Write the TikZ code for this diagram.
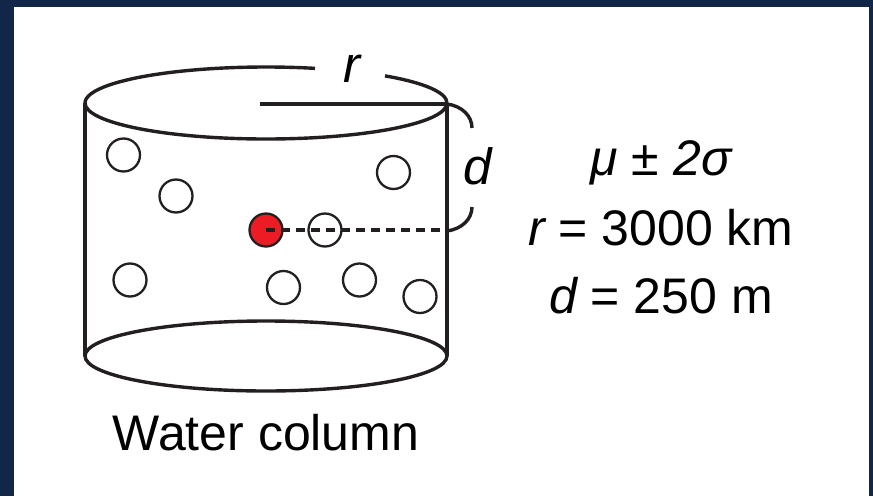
\documentclass[tikz,border=0pt]{standalone}
\usepackage{fontspec}
\setmainfont{Liberation Sans}
\definecolor{navy}{HTML}{12264A}
\definecolor{ink}{HTML}{231F20}
\definecolor{redfill}{HTML}{ED1C24}
\begin{document}
\begin{tikzpicture}[x=1pt,y=-1pt,
  cyl/.style={draw=ink,line width=3.4pt},
  particle/.style={circle,draw=ink,line width=2.3pt,minimum size=33pt,inner sep=0pt},
  lbl/.style={anchor=base,inner sep=0pt,font=\fontsize{51}{60}\selectfont\itshape},
  stat/.style={anchor=base,inner sep=0pt,font=\fontsize{50}{60}\selectfont},
  dashline/.style={draw=ink,line width=3.4pt,dash pattern=on 9pt off 6pt}]
\fill[navy] (0,0) rectangle (873,496);
\fill[white] (14,7) rectangle (869,496);
\useasboundingbox (0,0) rectangle (873,496);
% cylinder
\draw[cyl] (85,103) -- (85,356);
\draw[cyl] (447,103) -- (447,356);
\draw[cyl] (266,103) ++(0:181 and 36) arc[start angle=0,end angle=180,x radius=181,y radius=36];
\draw[cyl] (266,103) ++(180:181 and 36) arc[start angle=180,end angle=285.7,x radius=181,y radius=36];
\draw[cyl] (266,103) ++(311.1:181 and 36) arc[start angle=311.1,end angle=360,x radius=181,y radius=36];
\draw[cyl] (266,356) ellipse[x radius=181,y radius=35];
\draw[cyl] (260,104) -- (447,104);
% particles
\node[particle] (p1) at (123.5,155) {};
\node[particle] (p2) at (176,196) {};
\node[particle] (p3) at (393.5,172.5) {};
\node[particle,fill=redfill] (pr) at (266,230) {};
\node[particle] (p5) at (325,230) {};
\node[particle] (p6) at (130,280) {};
\node[particle] (p7) at (283.5,287.5) {};
\node[particle] (p8) at (359.5,280) {};
\node[particle] (p9) at (420,296.5) {};
\coordinate (edge) at (447,230);
\draw[dashline] (pr.center) -- (edge);
% depth brace
\draw[cyl] (447,104) .. controls (462,106) and (472,116) .. (472,128);
\draw[cyl] (472,207) .. controls (472,219) and (462,229) .. (447,231);
% labels
\node[lbl] (rl) at (352,82) {r};
\node[lbl] (dl) at (478,184) {d};
\node[stat] (s1) at (661,175) {\itshape μ ± 2σ};
\node[stat] (s2) at (661,245) {{\itshape r} = 3000 km};
\node[stat] (s3) at (661,313) {{\itshape d} = 250 m};
\node[anchor=base,inner sep=0pt,font=\fontsize{50}{60}\selectfont] (wc) at (266,450) {Water column};
\end{tikzpicture}
\end{document}
